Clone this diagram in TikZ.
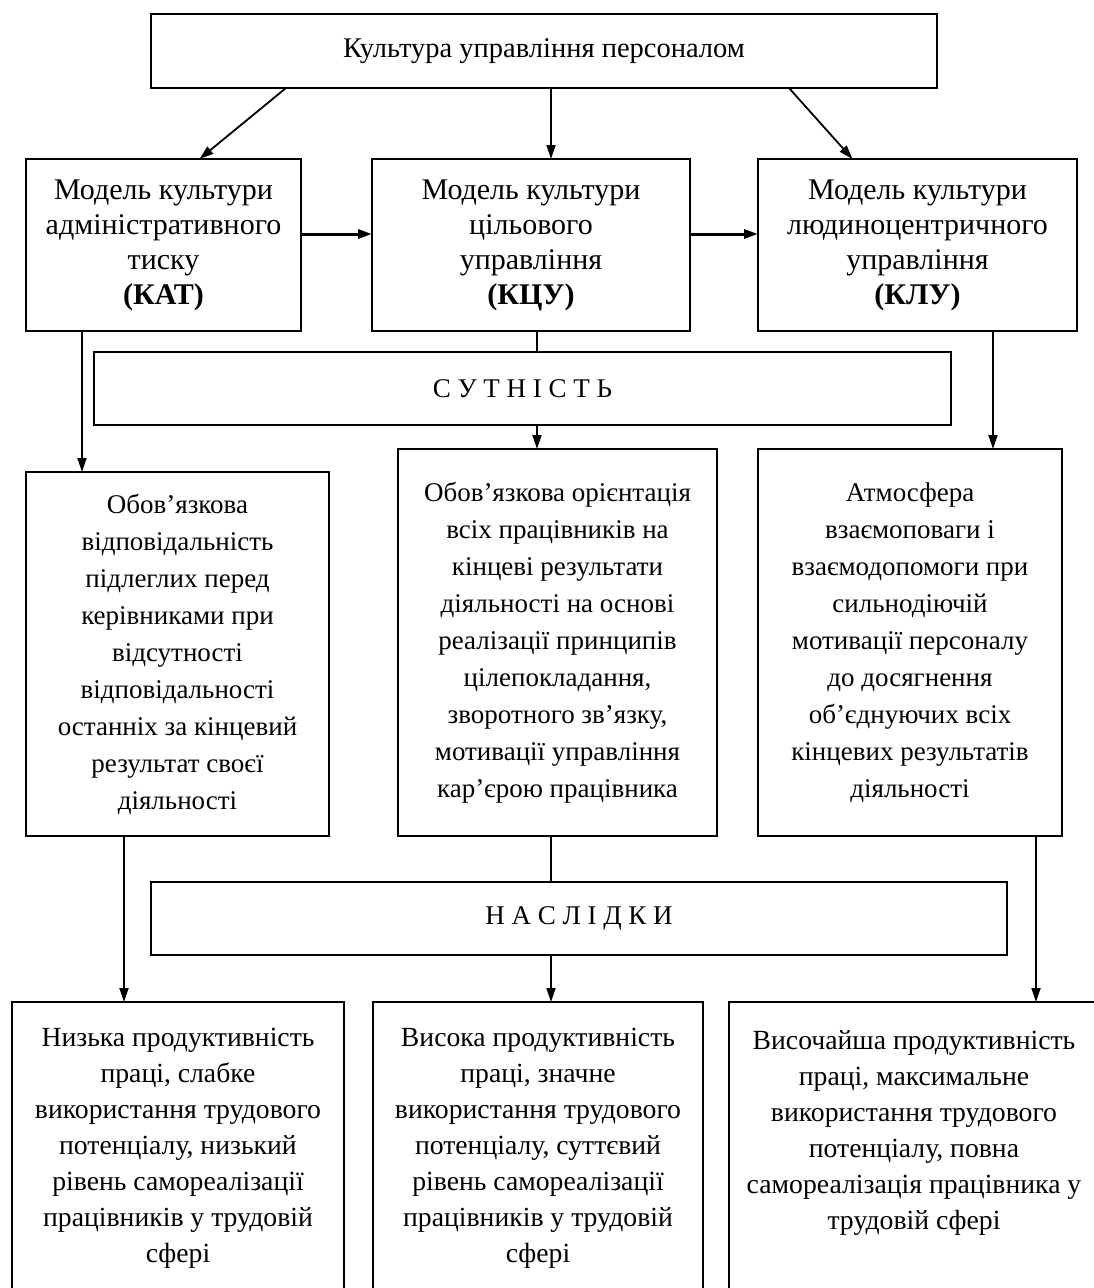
\documentclass[tikz,border=0pt]{standalone}
\usepackage{fontspec}
\setmainfont{Liberation Serif}
\usetikzlibrary{arrows.meta}
\begin{document}
\begin{tikzpicture}[x=1pt,y=-1pt,
	box/.style={draw,line width=2.8pt,inner sep=0pt,outer sep=0pt,align=center,font=\fontsize{30}{35}\selectfont},
	ess/.style={box,font=\fontsize{27}{37}\selectfont},
	res/.style={box,font=\fontsize{27.7}{36}\selectfont},
	arr/.style={-{Triangle[length=14pt,width=9pt]},line width=1.8pt},
	ln/.style={line width=1.8pt}]
	\useasboundingbox (0,0) rectangle (1094,1288);
	\clip (0,0) rectangle (1094,1288);
	% culture
	\node[box,minimum width=786pt,minimum height=74pt,font=\fontsize{28.5}{35}\selectfont] (top) at (544,51) {Культура управління персоналом};
	% models
	\node[box,minimum width=275pt,minimum height=172pt] (kat) at (163.5,245) {Модель культури\\адміністративного\\тиску\\\textbf{(КАТ)}};
	\node[box,minimum width=318pt,minimum height=172pt] (kcu) at (531,245) {Модель культури\\цільового\\управління\\\textbf{(КЦУ)}};
	\node[box,minimum width=319pt,minimum height=172pt] (klu) at (917.5,245) {Модель культури\\людиноцентричного\\управління\\\textbf{(КЛУ)}};
	\node[box,minimum width=857pt,minimum height=73pt,font=\fontsize{27}{35}\selectfont] (sut) at (522.5,388.5) {С У Т Н І С Т Ь};
	% essence
	\node[ess,minimum width=303pt,minimum height=364pt] (ess1) at (177.5,654) {Обов’язкова\\відповідальність\\підлеглих перед\\керівниками при\\відсутності\\відповідальності\\останніх за кінцевий\\результат своєї\\діяльності};
	\node[ess,minimum width=319pt,minimum height=387pt] (ess2) at (557.5,642.5) {Обов’язкова орієнтація\\всіх працівників на\\кінцеві результати\\діяльності на основі\\реалізації принципів\\цілепокладання,\\зворотного зв’язку,\\мотивації управління\\кар’єрою працівника};
	\node[ess,minimum width=304pt,minimum height=387pt] (ess3) at (910,642.5) {Атмосфера\\взаємоповаги і\\взаємодопомоги при\\сильнодіючій\\мотивації персоналу\\до досягнення\\об’єднуючих всіх\\кінцевих результатів\\діяльності};
	\node[box,minimum width=856pt,minimum height=73pt,font=\fontsize{27}{35}\selectfont] (nasl) at (579,918.5) {Н А С Л І Д К И};
	% results
	\node[res,minimum width=332pt,minimum height=293pt] (res1) at (178,1148.5) {Низька продуктивність\\праці, слабке\\використання трудового\\потенціалу, низький\\рівень самореалізації\\працівників у трудовій\\сфері};
	\node[res,minimum width=330pt,minimum height=293pt] (res2) at (538,1148.5) {Висока продуктивність\\праці, значне\\використання трудового\\потенціалу, суттєвий\\рівень самореалізації\\працівників у трудовій\\сфері};
	\node[res,minimum width=370pt,minimum height=293pt] (res3) at (914,1148.5) {Височайша продуктивність\\праці, максимальне\\використання трудового\\потенціалу, повна\\самореалізація працівника у\\трудовій сфері\\\mbox{}};
	\draw[arr] ([xshift=-258pt]top.south) -- ([xshift=36pt]kat.north);
	\draw[arr] ([xshift=7pt]top.south) -- ([xshift=7pt]top.south |- kcu.north);
	\draw[arr] ([xshift=245pt]top.south) -- ([xshift=-65pt]klu.north);
	\draw[arr,line width=3pt] ([yshift=11pt]kat.east) -- ([yshift=11pt]kcu.west);
	\draw[arr,line width=3pt] ([yshift=11pt]kcu.east) -- ([yshift=11pt]klu.west);
	\draw[ln] ([xshift=6pt]kcu.south) -- ([xshift=6pt]kcu.south |- sut.north);
	\draw[arr] ([xshift=6pt]kcu.south |- sut.south) -- ([xshift=6pt]kcu.south |- ess2.north);
	\draw[arr] ([xshift=-81.5pt]kat.south) -- ([xshift=-81.5pt]kat.south |- ess1.north);
	\draw[arr] ([xshift=75.5pt]klu.south) -- ([xshift=75.5pt]klu.south |- ess3.north);
	\draw[arr] ([xshift=-53.5pt]ess1.south) -- ([xshift=-53.5pt]ess1.south |- res1.north);
	\draw[ln] ([xshift=-6.5pt]ess2.south) -- ([xshift=-6.5pt]ess2.south |- nasl.north);
	\draw[arr] ([xshift=-6.5pt]ess2.south |- nasl.south) -- ([xshift=-6.5pt]ess2.south |- res2.north);
	\draw[arr] ([xshift=126pt]ess3.south) -- ([xshift=126pt]ess3.south |- res3.north);
\end{tikzpicture}
\end{document}
